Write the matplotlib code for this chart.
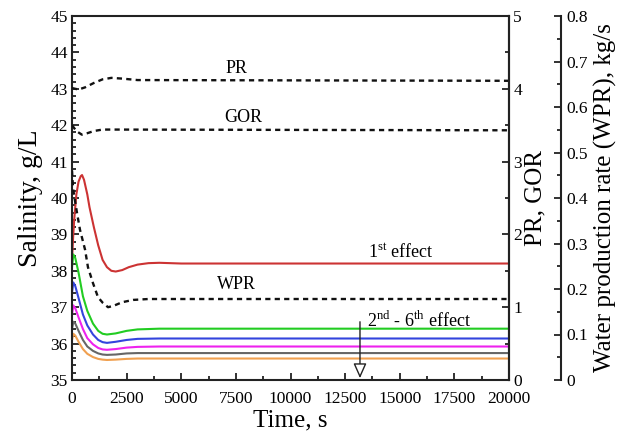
import matplotlib
matplotlib.use("Agg")
import matplotlib.pyplot as plt
from matplotlib.ticker import MultipleLocator

plt.rcParams['font.family'] = ['Liberation Serif', 'DejaVu Serif']
plt.rcParams['mathtext.fontset'] = 'custom'
plt.rcParams['mathtext.rm'] = 'Liberation Serif'

# ---- data ----
t_red = [0, 50, 100, 200, 300, 400, 460, 550, 700, 800, 1000, 1200, 1400, 1600, 1800, 2000, 2300, 2600, 3000, 3500, 4000, 5000, 20000]
s_red = [38.3, 38.9, 39.4, 40.1, 40.45, 40.6, 40.63, 40.5, 40.1, 39.75, 39.2, 38.7, 38.3, 38.1, 38.0, 37.98, 38.02, 38.1, 38.17, 38.21, 38.22, 38.2, 38.2]

t_eff = [0, 60, 150, 300, 500, 700, 960, 1200, 1400, 1600, 2000, 2500, 3000, 4000, 20000]
s_green = [38.1, 38.45, 38.35, 37.95, 37.3, 36.9, 36.55, 36.35, 36.27, 36.25, 36.28, 36.35, 36.39, 36.41, 36.41]
s_blue = [37.4, 37.68, 37.58, 37.25, 36.8, 36.5, 36.25, 36.1, 36.04, 36.02, 36.05, 36.1, 36.13, 36.14, 36.14]
s_magenta = [36.8, 37.05, 36.97, 36.72, 36.4, 36.15, 35.98, 35.88, 35.84, 35.83, 35.85, 35.89, 35.91, 35.92, 35.92]
s_gray = [36.4, 36.6, 36.55, 36.35, 36.1, 35.92, 35.8, 35.73, 35.7, 35.69, 35.7, 35.73, 35.74, 35.74, 35.74]
s_orange = [36.1, 36.27, 36.22, 36.05, 35.85, 35.72, 35.63, 35.58, 35.56, 35.55, 35.56, 35.58, 35.59, 35.59, 35.59]

t_pr = [0, 300, 600, 1000, 1400, 1800, 2300, 3000, 20000]
pr = [4.01, 3.99, 4.02, 4.08, 4.13, 4.15, 4.14, 4.12, 4.11]

t_gor = [0, 200, 450, 700, 1000, 1400, 2000, 20000]
gor = [3.5, 3.42, 3.37, 3.39, 3.42, 3.44, 3.44, 3.43]

t_wpr = [0, 50, 230, 366, 600, 730, 960, 1190, 1420, 1650, 1900, 2300, 2800, 3500, 20000]
wpr = [0.46, 0.42, 0.367, 0.33, 0.286, 0.248, 0.213, 0.182, 0.169, 0.160, 0.163, 0.171, 0.176, 0.178, 0.178]

x_ticks = [0, 2500, 5000, 7500, 10000, 12500, 15000, 17500, 20000]
sal_ticks = list(range(35, 46))
pr_ticks = [0, 1, 2, 3, 4, 5]
wpr_ticks = [0, 0.1, 0.2, 0.3, 0.4, 0.5, 0.6, 0.7, 0.8]

# ---- figure ----
fig = plt.figure(figsize=(6.23, 4.42), dpi=100)
ax = fig.add_axes([72/623, 1-380/442, 437/623, 364/442])
ax2 = ax.twinx()
ax3 = ax.twinx()

lw = 1.5
ax.plot(t_red, s_red, color='#cc3333', lw=lw)
ax.plot(t_eff, s_green, color='#22cc22', lw=lw)
ax.plot(t_eff, s_blue, color='#3344dd', lw=lw)
ax.plot(t_eff, s_magenta, color='#ee22ee', lw=lw)
ax.plot(t_eff, s_gray, color='#666666', lw=lw)
ax.plot(t_eff, s_orange, color='#f0a050', lw=lw)

dash = (0, (2.2, 1.8))
ax2.plot(t_pr, pr, color='#111111', lw=1.7, ls=dash)
ax2.plot(t_gor, gor, color='#111111', lw=1.7, ls=dash)
ax3.plot(t_wpr, wpr, color='#111111', lw=1.7, ls=dash)

ax.set_xlim(0, 20000)
ax.set_ylim(35, 45)
ax2.set_ylim(0, 5)
ax3.set_ylim(0, 0.8)

ax.set_xticks(x_ticks)
ax.set_xticklabels([str(v) for v in x_ticks])
ax.xaxis.set_minor_locator(MultipleLocator(1250))
ax.set_yticks(sal_ticks)
ax.yaxis.set_minor_locator(MultipleLocator(0.2))
ax2.set_yticks(pr_ticks)
ax2.yaxis.set_minor_locator(MultipleLocator(0.5))
ax3.set_yticks(wpr_ticks)
ax3.set_yticklabels(['0'] + ['%.1f' % v for v in wpr_ticks[1:]])
ax3.yaxis.set_minor_locator(MultipleLocator(0.05))

fs_tick = 12.5
for a in (ax, ax2, ax3):
    a.tick_params(which='both', direction='in', labelsize=fs_tick, width=1.3, color='#222222')
    a.tick_params(which='major', length=5)
    a.tick_params(which='minor', length=3)
ax.tick_params(axis='x', pad=8)
ax.tick_params(axis='y', pad=3)
ax2.tick_params(axis='y', pad=3)
ax3.tick_params(axis='y', pad=4)

for s in ax.spines.values():
    s.set_linewidth(1.5)
    s.set_color('#222222')
ax2.spines['right'].set_linewidth(1.5)
ax2.spines['right'].set_color('#222222')

ax3.spines['right'].set_position(('axes', 1.119))
ax3.spines['right'].set_linewidth(1.5)
ax3.spines['right'].set_color('#222222')
for k in ('left', 'top', 'bottom'):
    ax3.spines[k].set_visible(False)
    ax2.spines[k].set_visible(False)

ax.set_xlabel('Time, s', fontsize=18, labelpad=2)
ax.set_ylabel('Salinity, g/L', fontsize=20, labelpad=5)
ax2.set_ylabel('PR, GOR', fontsize=18, labelpad=2)
ax3.set_ylabel('Water production rate (WPR), kg/s', fontsize=18, labelpad=4)

fs_ann = 13
ax.text(7550, 43.55, 'PR', fontsize=fs_ann, ha='center', va='center')
ax.text(7830, 42.2, 'GOR', fontsize=fs_ann, ha='center', va='center')
ax.text(7550, 37.62, 'WPR', fontsize=fs_ann, ha='center', va='center')
ax.text(13550, 38.5, r'1$^{\mathrm{st}}$ effect', fontsize=fs_ann, ha='left', va='center')
ax.text(13500, 36.62, r'2$^{\mathrm{nd}}$ - 6$^{\mathrm{th}}$ effect', fontsize=fs_ann, ha='left', va='center')
ax.annotate('', xy=(13180, 35.05), xytext=(13180, 36.6),
            arrowprops=dict(arrowstyle='-|>,head_length=0.9,head_width=0.4',
                            fc='white', ec='#222222', lw=1.0, shrinkA=0, shrinkB=0))

fig.savefig('out.png', dpi=100)
